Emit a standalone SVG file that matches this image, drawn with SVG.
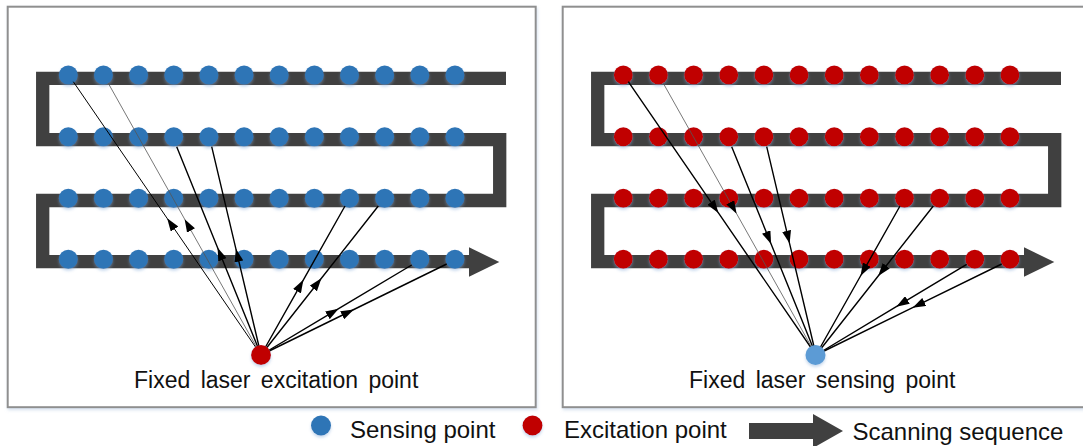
<svg xmlns="http://www.w3.org/2000/svg" width="1083" height="446" viewBox="0 0 1083 446">
<defs>
<style>
.panel{fill:#fff;stroke:#8f8f8f;stroke-width:2}
.track{fill:none;stroke:#404040;stroke-width:13.3;stroke-linejoin:miter;stroke-linecap:butt}
.head{fill:#404040}
.sd{fill:#2E75B6}
.ed{fill:#C00000}
.ln{fill:none;stroke:#000;stroke-width:1.4;marker-mid:url(#ah)}
.thin{stroke-width:1}
.gray{stroke:#555;stroke-width:0.8}
.lbl{font-family:"Liberation Sans",Arial,sans-serif;font-size:23px;fill:#111;word-spacing:4px}
.leg{font-family:"Liberation Sans",Arial,sans-serif;font-size:24px;fill:#111}
</style>
<marker id="ah" viewBox="0 0 13 9" refX="13" refY="4.5" markerWidth="13" markerHeight="9" markerUnits="userSpaceOnUse" orient="auto">
<path d="M0,0 L13,4.5 L0,9 z" fill="#000"/>
</marker>
<filter id="sh" x="-50%" y="-50%" width="200%" height="220%">
<feDropShadow dx="0" dy="2" stdDeviation="1.5" flood-color="#7fa6d6" flood-opacity="0.45"/>
</filter>
<filter id="psh" x="-5%" y="-5%" width="110%" height="110%">
<feDropShadow dx="1" dy="2" stdDeviation="1.5" flood-color="#c9d8ea" flood-opacity="0.7"/>
</filter>
<g id="trackL">
<path class="track" d="M506,78.3 H42.7 V139.7 H499.7 V200.5 H42.7 V261.7 H470"/>
<polygon class="head" points="469,247.3 499.3,262 469,276.7"/>
</g>
</defs>

<g id="panel-left">
<rect class="panel" x="7.7" y="6.7" width="528" height="400.5" filter="url(#psh)"/>
<use href="#trackL"/>
<g id="sensing-points" class="sd" filter="url(#sh)">
<circle cx="68.3" cy="75" r="9.5"/><circle cx="103.45" cy="75" r="9.5"/><circle cx="138.6" cy="75" r="9.5"/><circle cx="173.75" cy="75" r="9.5"/><circle cx="208.9" cy="75" r="9.5"/><circle cx="244.05" cy="75" r="9.5"/><circle cx="279.2" cy="75" r="9.5"/><circle cx="314.35" cy="75" r="9.5"/><circle cx="349.5" cy="75" r="9.5"/><circle cx="384.65" cy="75" r="9.5"/><circle cx="419.8" cy="75" r="9.5"/><circle cx="454.95" cy="75" r="9.5"/>
<circle cx="68.3" cy="136.7" r="9.5"/><circle cx="103.45" cy="136.7" r="9.5"/><circle cx="138.6" cy="136.7" r="9.5"/><circle cx="173.75" cy="136.7" r="9.5"/><circle cx="208.9" cy="136.7" r="9.5"/><circle cx="244.05" cy="136.7" r="9.5"/><circle cx="279.2" cy="136.7" r="9.5"/><circle cx="314.35" cy="136.7" r="9.5"/><circle cx="349.5" cy="136.7" r="9.5"/><circle cx="384.65" cy="136.7" r="9.5"/><circle cx="419.8" cy="136.7" r="9.5"/><circle cx="454.95" cy="136.7" r="9.5"/>
<circle cx="68.3" cy="198.3" r="9.5"/><circle cx="103.45" cy="198.3" r="9.5"/><circle cx="138.6" cy="198.3" r="9.5"/><circle cx="173.75" cy="198.3" r="9.5"/><circle cx="208.9" cy="198.3" r="9.5"/><circle cx="244.05" cy="198.3" r="9.5"/><circle cx="279.2" cy="198.3" r="9.5"/><circle cx="314.35" cy="198.3" r="9.5"/><circle cx="349.5" cy="198.3" r="9.5"/><circle cx="384.65" cy="198.3" r="9.5"/><circle cx="419.8" cy="198.3" r="9.5"/><circle cx="454.95" cy="198.3" r="9.5"/>
<circle cx="68.3" cy="259.3" r="9.5"/><circle cx="103.45" cy="259.3" r="9.5"/><circle cx="138.6" cy="259.3" r="9.5"/><circle cx="173.75" cy="259.3" r="9.5"/><circle cx="208.9" cy="259.3" r="9.5"/><circle cx="244.05" cy="259.3" r="9.5"/><circle cx="279.2" cy="259.3" r="9.5"/><circle cx="314.35" cy="259.3" r="9.5"/><circle cx="349.5" cy="259.3" r="9.5"/><circle cx="384.65" cy="259.3" r="9.5"/><circle cx="419.8" cy="259.3" r="9.5"/><circle cx="454.95" cy="259.3" r="9.5"/>
</g>
</g>

<g id="panel-right">
<rect class="panel" x="562.7" y="6.7" width="528" height="400.5" filter="url(#psh)"/>
<use href="#trackL" x="555"/>
<g id="excitation-points" class="ed" filter="url(#sh)">
<circle cx="623.3" cy="75" r="9.5"/><circle cx="658.45" cy="75" r="9.5"/><circle cx="693.6" cy="75" r="9.5"/><circle cx="728.75" cy="75" r="9.5"/><circle cx="763.9" cy="75" r="9.5"/><circle cx="799.05" cy="75" r="9.5"/><circle cx="834.2" cy="75" r="9.5"/><circle cx="869.35" cy="75" r="9.5"/><circle cx="904.5" cy="75" r="9.5"/><circle cx="939.65" cy="75" r="9.5"/><circle cx="974.8" cy="75" r="9.5"/><circle cx="1009.95" cy="75" r="9.5"/>
<circle cx="623.3" cy="136.7" r="9.5"/><circle cx="658.45" cy="136.7" r="9.5"/><circle cx="693.6" cy="136.7" r="9.5"/><circle cx="728.75" cy="136.7" r="9.5"/><circle cx="763.9" cy="136.7" r="9.5"/><circle cx="799.05" cy="136.7" r="9.5"/><circle cx="834.2" cy="136.7" r="9.5"/><circle cx="869.35" cy="136.7" r="9.5"/><circle cx="904.5" cy="136.7" r="9.5"/><circle cx="939.65" cy="136.7" r="9.5"/><circle cx="974.8" cy="136.7" r="9.5"/><circle cx="1009.95" cy="136.7" r="9.5"/>
<circle cx="623.3" cy="198.3" r="9.5"/><circle cx="658.45" cy="198.3" r="9.5"/><circle cx="693.6" cy="198.3" r="9.5"/><circle cx="728.75" cy="198.3" r="9.5"/><circle cx="763.9" cy="198.3" r="9.5"/><circle cx="799.05" cy="198.3" r="9.5"/><circle cx="834.2" cy="198.3" r="9.5"/><circle cx="869.35" cy="198.3" r="9.5"/><circle cx="904.5" cy="198.3" r="9.5"/><circle cx="939.65" cy="198.3" r="9.5"/><circle cx="974.8" cy="198.3" r="9.5"/><circle cx="1009.95" cy="198.3" r="9.5"/>
<circle cx="623.3" cy="259.3" r="9.5"/><circle cx="658.45" cy="259.3" r="9.5"/><circle cx="693.6" cy="259.3" r="9.5"/><circle cx="728.75" cy="259.3" r="9.5"/><circle cx="763.9" cy="259.3" r="9.5"/><circle cx="799.05" cy="259.3" r="9.5"/><circle cx="834.2" cy="259.3" r="9.5"/><circle cx="869.35" cy="259.3" r="9.5"/><circle cx="904.5" cy="259.3" r="9.5"/><circle cx="939.65" cy="259.3" r="9.5"/><circle cx="974.8" cy="259.3" r="9.5"/><circle cx="1009.95" cy="259.3" r="9.5"/>
</g>
</g>

<g id="connectors">
<path class="ln thin" d="M261,355 L167.15,218.35 L73.3,81.7"/>
<path class="ln gray" d="M261,355 L184.65,219.15 L108.3,83.3"/>
<path class="ln" d="M261,355 L217.6,247.7 L176.7,146.7"/>
<path class="ln" d="M261,355 L235.9,248.8 L211.7,146.7"/>
<path class="ln" d="M261,355 L303.4,279.8 L345,206"/>
<path class="ln" d="M261,355 L321.4,278.3 L378.3,206"/>
<path class="ln" d="M261,355 L338.6,308.65 L411.7,265"/>
<path class="ln" d="M261,355 L353.85,309.5 L446.7,264"/>
<path class="ln" d="M628.3,81.7 L718.4,212.9 L816,355"/>
<path class="ln gray" d="M663.3,83.3 L736.6,213.7 L816,355"/>
<path class="ln" d="M731.7,146.7 L771.1,244 L816,355"/>
<path class="ln" d="M766.7,146.7 L789.6,243.6 L816,355"/>
<path class="ln" d="M900,206 L860.5,276 L816,355"/>
<path class="ln" d="M933.3,206 L878.2,276 L816,355"/>
<path class="ln" d="M966.7,264.3 L896.3,306.7 L816,355"/>
<path class="ln" d="M1001.7,264 L912.6,307.7 L816,355"/>
</g>

<g id="excitation-source">
<circle cx="261" cy="355" r="10" fill="#C00000" filter="url(#sh)"/>
<text class="lbl" x="134" y="387.5">Fixed laser excitation point</text>
</g>
<g id="sensing-source">
<circle cx="815.5" cy="355" r="10" fill="#5B9BD5" filter="url(#sh)"/>
<text class="lbl" x="689" y="387.5">Fixed laser sensing point</text>
</g>

<g id="legend">
<circle cx="321" cy="425.5" r="10" fill="#2E75B6" filter="url(#sh)"/>
<text class="leg" x="350" y="438">Sensing point</text>
<circle cx="532.5" cy="425.5" r="10" fill="#C00000" filter="url(#sh)"/>
<text class="leg" x="564" y="438">Excitation point</text>
<polygon fill="#404040" points="749,423 813,423 813,414 843,431 813,448 813,439 749,439"/>
<text class="leg" x="852.5" y="440">Scanning sequence</text>
</g>
</svg>
